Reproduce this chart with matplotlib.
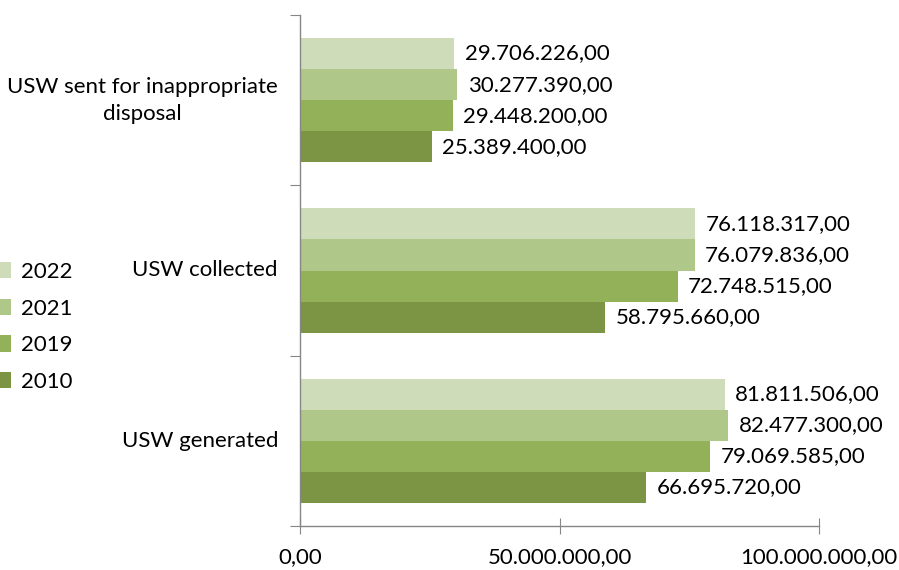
import numpy as np
import matplotlib
matplotlib.use("Agg")
from matplotlib import pyplot as plt
from matplotlib.patches import Patch

categories = ['USW generated', 'USW collected', 'USW sent for inappropriate\ndisposal']
years = ['2010', '2019', '2021', '2022']
v2010 = [66695720.00, 58795660.00, 25389400.00]
v2019 = [79069585.00, 72748515.00, 29448200.00]
v2021 = [82477300.00, 76079836.00, 30277390.00]
v2022 = [81811506.00, 76118317.00, 29706226.00]
x_ticks = [0, 50000000, 100000000]

colors = ['#7b9544', '#93b158', '#afc788', '#cfdcb9']
axis_grey = '#868686'

def br_fmt(v):
    # 1,234.56 -> 1.234,56
    return '{:,.2f}'.format(v).replace(',', 'X').replace('.', ',').replace('X', '.')

plt.rcParams['font.family'] = ['Lato', 'DejaVu Sans']
fs = 16

fig = plt.figure(figsize=(8.99, 5.70), dpi=100)
ax = fig.add_axes([300/899, 1 - 526/570, 519/899, (526 - 15)/570])

series = [v2010, v2019, v2021, v2022]
h = 31/170
y = np.arange(len(categories))
for i, (vals, col) in enumerate(zip(series, colors)):
    pos = y + (i - 1.5) * h
    ax.barh(pos, vals, height=h, color=col, edgecolor='none')
    for p, v in zip(pos, vals):
        ax.text(v + 2e6, p, br_fmt(v), va='center', ha='left', fontsize=fs, color='#000000')

ax.set_xlim(0, 100000000)
ax.set_ylim(-0.5, 2.5)
ax.set_xticks(x_ticks)
ax.set_xticklabels([br_fmt(t) for t in x_ticks], fontsize=fs)
ax.set_yticks([-0.5, 0.5, 1.5, 2.5])
ax.set_yticklabels([])
for c, lab in zip(y, categories):
    ax.text(-22/519 * 1e8, c, lab, ha='right', va='center', multialignment='center',
            fontsize=fs, linespacing=1.45)

for s in ['top', 'right']:
    ax.spines[s].set_visible(False)
for s in ['left', 'bottom']:
    ax.spines[s].set_color(axis_grey)
    ax.spines[s].set_linewidth(1.0)
ax.tick_params(axis='x', direction='inout', length=12, color=axis_grey, pad=9)
ax.tick_params(axis='y', direction='out', length=7, color=axis_grey)

handles = [Patch(facecolor=colors[i], label=years[i]) for i in range(3, -1, -1)]
fig.legend(handles=handles, loc='center left', bbox_to_anchor=(0.0, 1 - 327/570),
           frameon=False, fontsize=fs, handlelength=0.5, handleheight=0.75,
           handletextpad=0.45, labelspacing=0.75, borderpad=0, borderaxespad=0)

fig.savefig('out.png', dpi=100)
